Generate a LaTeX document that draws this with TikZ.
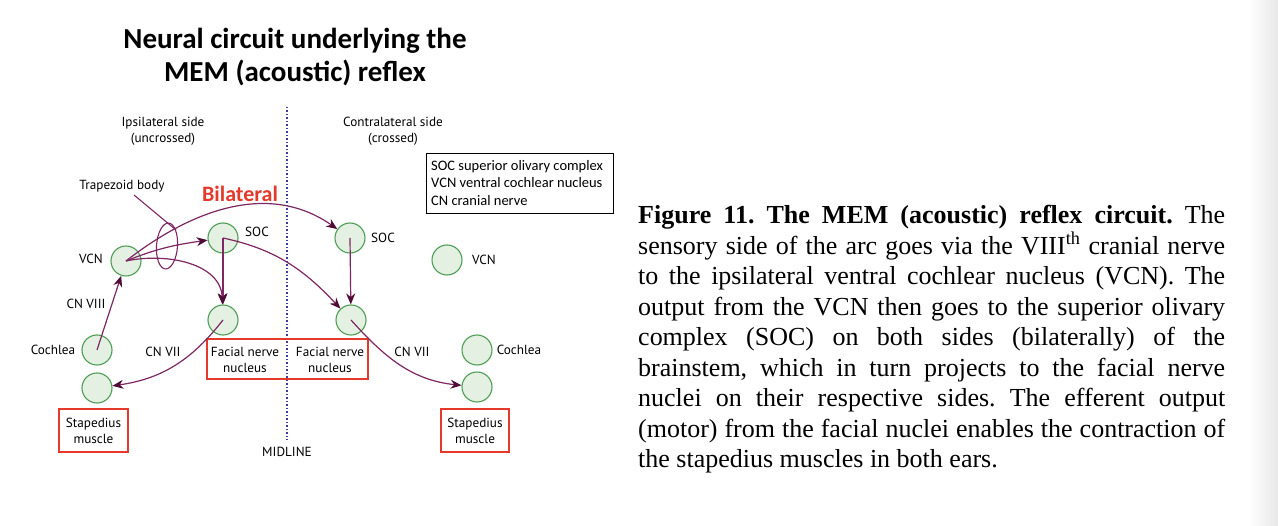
\documentclass[tikz,border=0pt]{standalone}
\usepackage{fontspec}
\usetikzlibrary{arrows.meta,shapes.geometric}
\newfontfamily\titlefont{Carlito}
\newfontfamily\lblfont{PT Sans}
\newfontfamily\capfont{Liberation Serif}
\definecolor{nerve}{HTML}{7E2762}
\definecolor{tipc}{HTML}{4F0C36}
\definecolor{nucline}{HTML}{4E9E56}
\definecolor{nucfill}{HTML}{E4F1E2}
\definecolor{redc}{HTML}{E5392C}
\definecolor{midc}{HTML}{3C3CA0}
\tikzset{
  nuc/.style={circle, draw=nucline, fill=nucfill, line width=1.1pt, minimum size=30pt, inner sep=0pt},
  conn/.style={draw=nerve, line width=1.2pt, -{Stealth[length=11pt,width=9pt,color=tipc,fill=tipc]}},
  lbl/.style={font=\lblfont\fontsize{13.2}{16}\selectfont, inner sep=0pt, align=center},
  redbox/.style={draw=redc, line width=2pt, inner sep=0pt},
}
\begin{document}
\begin{tikzpicture}[x=1pt,y=-1pt]
\useasboundingbox (0,0) rectangle (1278,526);
\fill[white] (0,0) rectangle (1278,526);
\shade[left color=white, right color=black!9] (1248,0) rectangle (1278,526);

% title
\node[font=\titlefont\bfseries\fontsize{29}{33}\selectfont, align=center] (title) at (295,57) {Neural circuit underlying the\\MEM (acoustic) reflex};

% side labels
\node[lbl, font=\lblfont\fontsize{13.2}{16}\selectfont] (ipsi) at (163,131) {Ipsilateral side\\(uncrossed)};
\node[lbl, font=\lblfont\fontsize{13.2}{16}\selectfont] (contra) at (393,131) {Contralateral side\\(crossed)};

% midline
\coordinate (mtop) at (287,107);
\coordinate (mbot) at (287,440);
\draw[midc, line width=1.3pt, dash pattern=on 1.3pt off 2.2pt] (mtop) -- (mbot);
\node[lbl] (midline) at (287,452) {MIDLINE};

% legend
\node[draw=black, line width=0.6pt, anchor=north west, minimum width=187pt, minimum height=60pt, inner sep=0pt] (legend) at (426,153) {};
\node[anchor=west, font=\titlefont\fontsize{14.5}{17.5}\selectfont, align=left, inner sep=0pt] (legtxt) at (431,183) {SOC superior olivary complex\\VCN ventral cochlear nucleus\\CN cranial nerve};

% nuclei
\node[nuc] (vcnL) at (126,261) {};
\node[nuc] (socL) at (223,238) {};
\node[nuc] (facL) at (223,320) {};
\node[nuc] (cochL) at (97,350) {};
\node[nuc] (stapLc) at (97,388) {};
\node[nuc] (socR) at (350,238) {};
\node[nuc] (vcnR) at (447,260) {};
\node[nuc] (facR) at (351,320) {};
\node[nuc] (cochR) at (477,350) {};
\node[nuc] (stapRc) at (477,387) {};

% labels
\node[lbl] (tVCNL) at (91,259) {VCN};
\node[lbl] (tSOCL) at (257,232) {SOC};
\node[lbl] (tSOCR) at (383,238) {SOC};
\node[lbl] (tVCNR) at (484,260) {VCN};
\node[lbl] (tCN8) at (86,304) {CN VIII};
\node[lbl] (tCochL) at (53,350) {Cochlea};
\node[lbl] (tCN7L) at (163,352) {CN VII};
\node[lbl] (tCN7R) at (412,352) {CN VII};
\node[lbl] (tCochR) at (519,350) {Cochlea};
\node[lbl] (tFacL) at (245,360) {Facial nerve\\nucleus};
\node[lbl] (tFacR) at (330,360) {Facial nerve\\nucleus};
\node[redbox, minimum width=161pt, minimum height=40pt] (facbox) at (287.5,359) {};
\node[redbox, lbl, minimum width=69pt, minimum height=43pt] (stapL) at (93.5,430.5) {Stapedius\\muscle};
\node[redbox, lbl, minimum width=68pt, minimum height=43pt] (stapR) at (475,430.5) {Stapedius\\muscle};

\node[font=\titlefont\bfseries\fontsize{22}{24}\selectfont, text=redc, inner sep=0pt] (bilat) at (240,194) {Bilateral};

% trapezoid body
\node[lbl] (tTrap) at (122,186) {Trapezoid body};
\node[ellipse, draw=nerve, line width=1.1pt, minimum width=21pt, minimum height=46pt, inner sep=0pt, rotate=-4] (tb) at (167,246) {};
\coordinate (tp) at (134,195);
\draw[nerve, line width=1.1pt] (tp) -- (tb.north east);

% connectors
\draw[conn] (cochL.center) -- (vcnL);
\draw[conn] (vcnL.center) to[out=22,in=188] (socL);
\draw[conn] (vcnL.center) to[out=12,in=92] (facL);
\draw[conn] (vcnL.center) to[out=38,in=145] (socR);
\draw[conn] (socL.center) -- (facL);
\draw[conn] (socL.center) to[out=-12,in=133] (facR);
\draw[conn] (socR.center) -- (facR);
\draw[conn] (facL.center) to[out=-128,in=8] (stapLc);
\draw[conn] (facR.center) to[out=-48,in=174] (stapRc);

% caption
\node[anchor=north west, inner sep=0pt] (caption) at (638,205) {\parbox{587pt}{\capfont\fontsize{26}{30.5}\selectfont\frenchspacing\tolerance=10000\emergencystretch=20pt\noindent
\textbf{Figure 11. The MEM (acoustic) reflex circuit.} The\linebreak
sensory side of the arc goes via the VIII\textsuperscript{th} cranial nerve\linebreak
to the ipsilateral ventral cochlear nucleus (VCN). The\linebreak
output from the VCN then goes to the superior olivary\linebreak
complex (SOC) on both sides (bilaterally) of the\linebreak
brainstem, which in turn projects to the facial nerve\linebreak
nuclei on their respective sides. The efferent output\linebreak
(motor) from the facial nuclei enables the contraction of\linebreak
the stapedius muscles in both ears.}};
\end{tikzpicture}
\end{document}
